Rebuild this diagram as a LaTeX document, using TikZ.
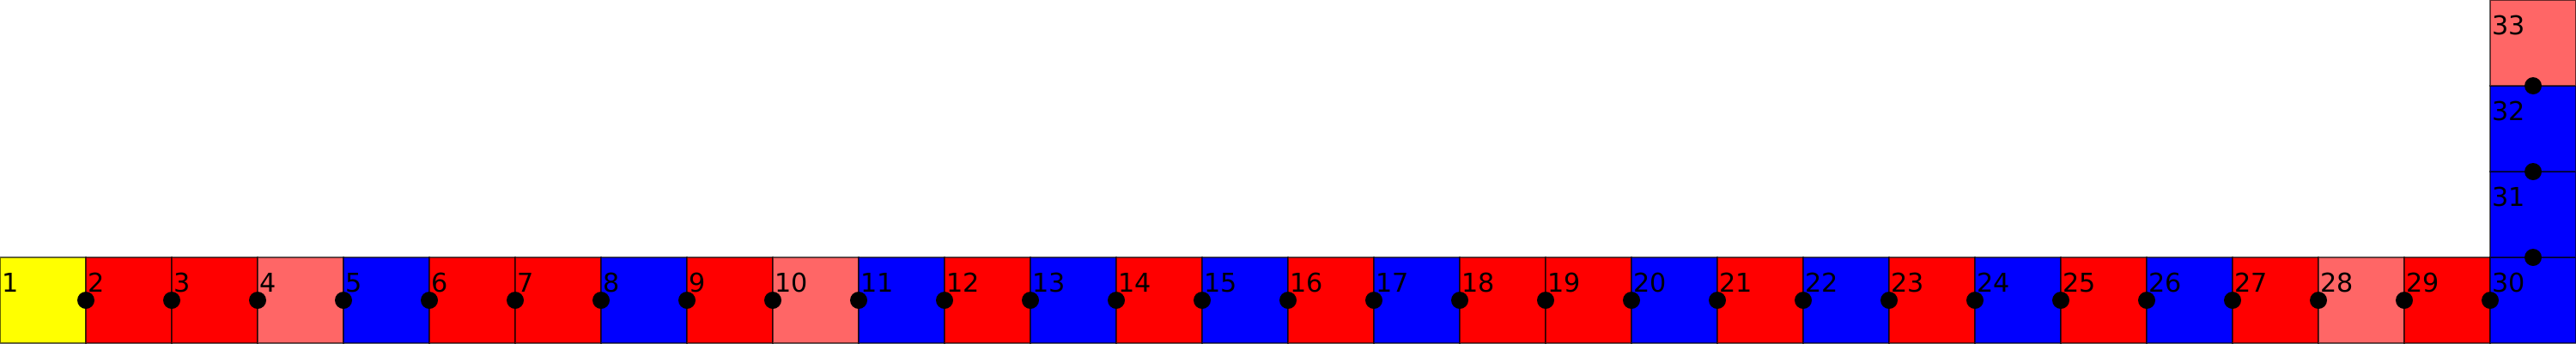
\documentclass[tikz,border=0pt]{standalone}
\usepackage{fontspec}
\setmainfont{DejaVu Sans}
\definecolor{cY}{RGB}{255,255,0}
\definecolor{cR}{RGB}{255,0,0}
\definecolor{cL}{RGB}{255,102,102}
\definecolor{cB}{RGB}{0,0,255}
\begin{document}
\begin{tikzpicture}[x=1cm,y=1cm,
  cell/.style={draw=black, draw opacity=0.6, line width=0.4pt, minimum size=1cm, inner sep=0pt, outer sep=0pt, anchor=south west},
  lbl/.style={anchor=base west, inner sep=0pt, font=\fontsize{8.6}{10}\selectfont},
  dotnode/.style={circle, fill=black, inner sep=0pt, minimum size=0.2cm}]
\useasboundingbox (0,0) rectangle (30,4);
% bottom row
\foreach \c [count=\i] in {cY,cR,cR,cL,cB,cR,cR,cB,cR,cL,cB,cR,cB,cR,cB,cR,cB,cR,cR,cB,cR,cB,cR,cB,cR,cB,cR,cL,cR,cB} {
  \node[cell, fill=\c] (s\i) at (\i-1,0) {};
}
% column
\node[cell, fill=cB] (s31) at (29,1) {};
\node[cell, fill=cB] (s32) at (29,2) {};
\node[cell, fill=cL] (s33) at (29,3) {};
% labels
\foreach \i in {1,...,33} {
  \node[lbl] (t\i) at ([shift={(0.015,-0.4)}]s\i.north west) {\i};
}
% dots
\foreach \i in {2,...,30} {
  \node[dotnode] (d\i) at (s\i.west) {};
}
\node[dotnode] (d31) at (s31.south) {};
\node[dotnode] (d32) at (s32.south) {};
\node[dotnode] (d33) at (s33.south) {};
\end{tikzpicture}
\end{document}
